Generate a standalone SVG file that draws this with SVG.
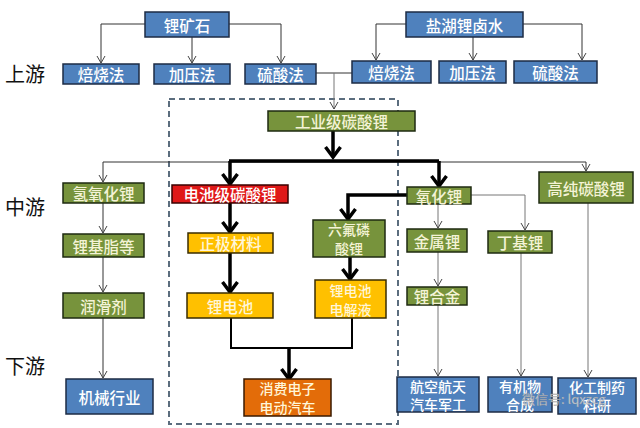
<svg xmlns="http://www.w3.org/2000/svg" width="640" height="428" viewBox="0 0 640 428">
<defs>
<style>
.t{font-family:"Noto Sans CJK SC",sans-serif;font-size:15.5px;font-weight:500;text-anchor:middle;dominant-baseline:central}
.s{font-size:14px}
.blue{fill:#4f81bd;stroke:#1c2b44;stroke-width:1.5}
.green{fill:#77933c;stroke:#1e2a10;stroke-width:1.5}
.yellow{fill:#ffc000;stroke:#3a2c00;stroke-width:1.5}
.red{fill:#e01818;stroke:#3a0000;stroke-width:1.5}
.orange{fill:#e36c09;stroke:#3a1a00;stroke-width:1.5}
.wt{fill:#ffffff}
.gt{fill:#f4f3d6}
.yt{fill:#fff6d8}
.thin{fill:none;stroke:#333;stroke-width:1}
.gray{fill:none;stroke:#777;stroke-width:1}
.thick{fill:none;stroke:#000;stroke-width:3.5}
.lvl{font-family:"Noto Sans CJK SC",sans-serif;font-size:20px;fill:#111}
</style>
<marker id="ta" viewBox="-1 -1 9 10" markerWidth="9" markerHeight="10" refX="7" refY="4" orient="auto" markerUnits="userSpaceOnUse"><path d="M0,0 L7,4 L0,8" fill="none" stroke="#444" stroke-width="1"/></marker>
<marker id="ka" viewBox="-2 -2 16 19" markerWidth="16" markerHeight="19" refX="11" refY="7.5" orient="auto" markerUnits="userSpaceOnUse"><path d="M1,0 L11,7.5 L1,15" fill="none" stroke="#000" stroke-width="3.5"/></marker>
</defs>
<rect width="640" height="428" fill="#ffffff"/>

<g id="levels">
<text class="lvl" x="5" y="82">上游</text>
<text class="lvl" x="5" y="215">中游</text>
<text class="lvl" x="5" y="374">下游</text>
</g>

<rect x="169" y="99" width="229" height="325" fill="none" stroke="#5b6d7e" stroke-width="2" stroke-dasharray="6,4"/>

<g id="connectors">
<path class="thin" d="M145,24 H101 V63" marker-end="url(#ta)"/>
<path class="thin" d="M192,37 V63" marker-end="url(#ta)"/>
<path class="thin" d="M229,24 H281 V63" marker-end="url(#ta)"/>
<path class="thin" d="M406,24 H376 V60" marker-end="url(#ta)"/>
<path class="thin" d="M473,37 V60" marker-end="url(#ta)"/>
<path class="thin" d="M523,24 H582 V60" marker-end="url(#ta)"/>
<path class="thin" d="M316,73 H352"/>
<path class="gray" d="M334,73 V109" marker-end="url(#ta)"/>
<path class="thick" d="M333,131 V157" marker-end="url(#ka)"/>
<path class="thin" d="M103,162 H586"/>
<path class="thin" d="M103,162 V182" marker-end="url(#ta)"/>
<path class="thin" d="M586,162 V171" marker-end="url(#ta)"/>
<path class="thick" d="M229,161 H439"/>
<path class="thick" d="M230,161 V184" marker-end="url(#ka)"/>
<path class="thick" d="M439,161 V186" marker-end="url(#ka)"/>
<path class="thick" d="M230,203 V232" marker-end="url(#ka)"/>
<path class="thick" d="M230,253 V292" marker-end="url(#ka)"/>
<path class="thick" d="M407,195 H348 V219" marker-end="url(#ka)"/>
<path class="thick" d="M350,257 V279" marker-end="url(#ka)"/>
<path fill="none" stroke="#000" stroke-width="2" d="M231,318 V348 H352 V318"/>
<path class="thick" d="M289,348 V379" marker-end="url(#ka)"/>
<path class="thin" d="M103,203 V233" marker-end="url(#ta)"/>
<path class="thin" d="M103,257 V292" marker-end="url(#ta)"/>
<path class="thin" d="M103,318 V378" marker-end="url(#ta)"/>
<path class="gray" d="M438,203 V228" marker-end="url(#ta)"/>
<path class="gray" d="M471,195 H525 V230" marker-end="url(#ta)"/>
<path class="gray" d="M438,252 V286" marker-end="url(#ta)"/>
<path class="gray" d="M438,305 V376" marker-end="url(#ta)"/>
<path class="gray" d="M521,253 V376" marker-end="url(#ta)"/>
<path class="gray" d="M588,203 V377" marker-end="url(#ta)"/>
</g>

<g id="limineral"><rect class="blue" x="145" y="12" width="84" height="25"/><text class="t wt" x="187" y="24.5">锂矿石</text></g>
<g id="brine"><rect class="blue" x="406" y="12" width="117" height="25"/><text class="t wt" x="464.5" y="24.5">盐湖锂卤水</text></g>
<g id="roast1"><rect class="blue" x="63" y="64" width="76" height="20"/><text class="t wt" x="101" y="74">焙烧法</text></g>
<g id="press1"><rect class="blue" x="154" y="64" width="76" height="20"/><text class="t wt" x="192" y="74">加压法</text></g>
<g id="acid1"><rect class="blue" x="245" y="64" width="71" height="20"/><text class="t wt" x="280.5" y="74">硫酸法</text></g>
<g id="roast2"><rect class="blue" x="352" y="61" width="79" height="22"/><text class="t wt" x="391.5" y="72">焙烧法</text></g>
<g id="press2"><rect class="blue" x="439" y="61" width="67" height="22"/><text class="t wt" x="472.5" y="72">加压法</text></g>
<g id="acid2"><rect class="blue" x="514" y="61" width="83" height="22"/><text class="t wt" x="555.5" y="72">硫酸法</text></g>

<g id="indcarb"><rect class="green" x="268" y="111" width="147" height="20"/><text class="t gt" x="341.5" y="121">工业级碳酸锂</text></g>
<g id="batcarb"><rect class="red" x="172" y="185" width="116" height="18"/><text class="t wt" x="230" y="194">电池级碳酸锂</text></g>
<g id="oxide"><rect class="green" x="407" y="187" width="64" height="17"/><text class="t gt" x="439" y="195.5">氧化锂</text></g>
<g id="purecarb"><rect class="green" x="539" y="172" width="94" height="31"/><text class="t gt" x="586" y="187.5">高纯碳酸锂</text></g>
<g id="hydroxide"><rect class="green" x="63" y="183" width="81" height="20"/><text class="t gt" x="103.5" y="193">氢氧化锂</text></g>
<g id="grease"><rect class="green" x="63" y="234" width="81" height="23"/><text class="t gt" x="103.5" y="245.5">锂基脂等</text></g>
<g id="lubricant"><rect class="green" x="63" y="293" width="81" height="25"/><text class="t gt" x="103.5" y="305.5">润滑剂</text></g>
<g id="machinery"><rect class="blue" x="66" y="379" width="87" height="35"/><text class="t wt" x="109.5" y="396.5">机械行业</text></g>
<g id="cathode"><rect class="yellow" x="188" y="233" width="85" height="20"/><text class="t yt" x="230.5" y="243">正极材料</text></g>
<g id="battery"><rect class="yellow" x="187" y="293" width="86" height="25"/><text class="t yt" x="230" y="305.5">锂电池</text></g>
<g id="lipf6"><rect class="green" x="313" y="220" width="72" height="37"/><text class="t s gt"><tspan x="349" y="229">六氟磷</tspan><tspan x="349" y="248">酸锂</tspan></text></g>
<g id="electrolyte"><rect class="yellow" x="315" y="280" width="71" height="38"/><text class="t s yt"><tspan x="350.5" y="289.5">锂电池</tspan><tspan x="350.5" y="308.5">电解液</tspan></text></g>
<g id="consumer"><rect class="orange" x="244" y="379" width="87" height="37"/><text class="t s yt"><tspan x="287.5" y="388">消费电子</tspan><tspan x="287.5" y="407">电动汽车</tspan></text></g>
<g id="aero"><rect class="blue" x="397" y="377" width="82" height="35"/><text class="t s wt"><tspan x="438" y="385.5">航空航天</tspan><tspan x="438" y="403.5">汽车军工</tspan></text></g>
<g id="metal"><rect class="green" x="407" y="229" width="60" height="23"/><text class="t gt" x="437" y="240.5">金属锂</text></g>
<g id="alloy"><rect class="green" x="407" y="287" width="60" height="18"/><text class="t gt" x="437" y="296">锂合金</text></g>
<g id="butyl"><rect class="green" x="488" y="231" width="64" height="22"/><text class="t gt" x="520" y="242">丁基锂</text></g>
<g id="organic"><rect class="blue" x="488" y="377" width="64" height="35"/><text class="t s wt"><tspan x="520" y="385.5">有机物</tspan><tspan x="520" y="403.5">合成</tspan></text></g>
<g id="chem"><rect class="blue" x="558" y="378" width="78" height="36"/><text class="t s wt"><tspan x="597" y="386.5">化工制药</tspan><tspan x="597" y="404.5">科研</tspan></text></g>

<g id="watermark" opacity="0.85">
<text x="522" y="404" font-family="Noto Sans CJK SC, sans-serif" font-size="13" fill="#e8e8e8" stroke="#888" stroke-width="0.3">微信号: lqxzcg</text>
</g>
</svg>
